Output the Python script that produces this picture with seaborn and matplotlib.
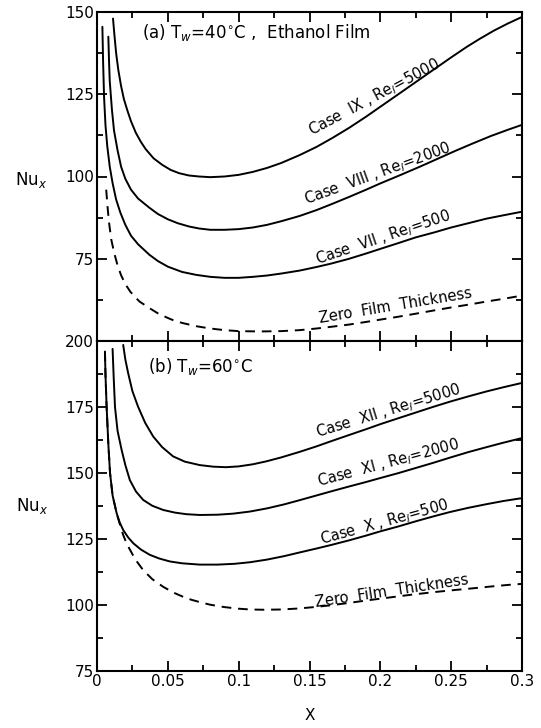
import numpy as np
import pandas as pd
import matplotlib
matplotlib.use("Agg")
import matplotlib.pyplot as plt
import seaborn as sns
from matplotlib.ticker import MultipleLocator, FixedLocator

# ---------------- data ----------------
# Panel (a): Tw = 40 C, ethanol film
a_case9_x = [0.0113, 0.0123, 0.0135, 0.015, 0.017, 0.019, 0.0215, 0.024, 0.0274, 0.031,
             0.0344, 0.04, 0.0462, 0.052, 0.058, 0.065, 0.072, 0.08, 0.09, 0.1,
             0.11, 0.12, 0.13, 0.143, 0.155, 0.1665, 0.178, 0.19, 0.2, 0.2137,
             0.225, 0.237, 0.25, 0.261, 0.27, 0.28, 0.29, 0.3]
a_case9_y = [148, 143, 137.5, 132.5, 127.5, 123.5, 120, 116.8, 113.3, 110.5,
             108.3, 105.5, 103.5, 102, 101, 100.3, 100, 99.8, 100, 100.5,
             101.4, 102.6, 104.1, 106.5, 109, 111.8, 114.8, 118.2, 121.2, 125.3,
             128.7, 132.3, 136.2, 139.4, 141.8, 144.3, 146.5, 148.5]

a_case8_x = [0.008, 0.0085, 0.009, 0.0105, 0.012, 0.0145, 0.017, 0.02, 0.024, 0.029,
             0.037, 0.043, 0.05, 0.057, 0.065, 0.072, 0.08, 0.09, 0.1, 0.11,
             0.12, 0.13, 0.143, 0.155, 0.165, 0.178, 0.19, 0.2, 0.215, 0.228,
             0.24, 0.253, 0.265, 0.278, 0.29, 0.3]
a_case8_y = [142.5, 135, 129, 120.5, 114, 108, 103, 99.3, 96, 93.3,
             90.5, 88.6, 87, 85.8, 84.8, 84.2, 83.8, 83.8, 84, 84.5,
             85.3, 86.4, 88, 89.8, 91.5, 93.8, 96, 97.9, 100.6, 103,
             105.3, 107.8, 110, 112.3, 114.2, 115.7]

a_case7_x = [0.0038, 0.0043, 0.005, 0.006, 0.0073, 0.009, 0.011, 0.0135, 0.0165, 0.02,
             0.024, 0.029, 0.037, 0.043, 0.05, 0.06, 0.07, 0.08, 0.09, 0.1,
             0.11, 0.12, 0.13, 0.143, 0.155, 0.165, 0.178, 0.19, 0.2, 0.213,
             0.225, 0.238, 0.25, 0.263, 0.275, 0.288, 0.3]
a_case7_y = [145.5, 135, 124, 115.5, 109, 103, 98, 93, 89, 85.3,
             82, 79.4, 76.2, 74.3, 72.6, 71, 70.1, 69.5, 69.2, 69.2,
             69.5, 69.9, 70.5, 71.4, 72.5, 73.5, 75, 76.6, 78, 79.8,
             81.5, 83, 84.5, 85.9, 87.2, 88.3, 89.3]

a_zero_x = [0.0065, 0.0075, 0.0085, 0.01, 0.012, 0.0145, 0.017, 0.02, 0.0235, 0.027,
            0.03, 0.037, 0.043, 0.05, 0.055, 0.061, 0.07, 0.08, 0.09, 0.1,
            0.115, 0.13, 0.143, 0.155, 0.165, 0.178, 0.19, 0.2, 0.213, 0.225,
            0.238, 0.25, 0.263, 0.275, 0.288, 0.3]
a_zero_y = [96, 90.5, 86, 81, 77, 73, 70, 67.3, 65, 63.3,
            62, 60, 58.4, 57, 56.1, 55.4, 54.5, 53.8, 53.3, 53,
            52.9, 53, 53.3, 53.8, 54.3, 55, 55.8, 56.5, 57.4, 58.3,
            59.3, 60.2, 61.1, 62, 62.9, 63.8]

# Panel (b): Tw = 60 C
b_case12_x = [0.0185, 0.02, 0.022, 0.025, 0.029, 0.034, 0.0397, 0.046, 0.0537, 0.062,
              0.0725, 0.082, 0.091, 0.1, 0.11, 0.1194, 0.13, 0.143, 0.155, 0.165,
              0.178, 0.19, 0.2, 0.213, 0.225, 0.237, 0.249, 0.262, 0.275, 0.287, 0.299]
b_case12_y = [198.5, 193, 187.8, 181, 175.1, 169, 163.8, 159.8, 156.3, 154.3,
              153, 152.4, 152.2, 152.5, 153.3, 154.4, 155.9, 158, 160.1, 162,
              164.4, 166.6, 168.5, 170.8, 172.9, 175, 177, 179, 180.9, 182.5, 184]

b_case11_x = [0.011, 0.0118, 0.0127, 0.0145, 0.0174, 0.02, 0.0232, 0.0275, 0.0326, 0.039,
              0.0467, 0.055, 0.063, 0.0725, 0.085, 0.096, 0.108, 0.12, 0.132, 0.143,
              0.155, 0.165, 0.178, 0.19, 0.2, 0.213, 0.225, 0.237, 0.249, 0.262,
              0.275, 0.287, 0.299]
b_case11_y = [197, 186, 175, 166, 158.7, 153, 147.3, 143, 139.8, 137.6,
              136, 135, 134.4, 134.1, 134.2, 134.6, 135.4, 136.6, 138.1, 139.7,
              141.5, 143, 144.9, 146.6, 148.1, 150, 151.9, 153.8, 155.8, 157.9,
              159.8, 161.5, 163.1]

b_case10_x = [0.0056, 0.006, 0.0068, 0.008, 0.0092, 0.011, 0.0139, 0.016, 0.0185, 0.022,
              0.0256, 0.031, 0.0373, 0.044, 0.0514, 0.06, 0.0725, 0.085, 0.097, 0.108,
              0.12, 0.132, 0.143, 0.155, 0.165, 0.178, 0.19, 0.2, 0.213, 0.225,
              0.237, 0.249, 0.262, 0.275, 0.287, 0.299]
b_case10_y = [196, 187, 175, 161, 150, 141.5, 134.7, 131.3, 128.4, 125.6,
              123.4, 121, 119, 117.6, 116.5, 115.8, 115.3, 115.3, 115.6, 116.2,
              117.2, 118.5, 119.9, 121.4, 122.7, 124.5, 126.3, 127.9, 129.8, 131.7,
              133.5, 135.2, 136.8, 138.2, 139.4, 140.4]

b_zero_x = [0.0056, 0.006, 0.0068, 0.008, 0.0092, 0.011, 0.0139, 0.016, 0.0185, 0.021,
            0.0232, 0.027, 0.0326, 0.039, 0.0467, 0.054, 0.0608, 0.0665, 0.0725, 0.08,
            0.09, 0.1, 0.108, 0.118, 0.13, 0.143, 0.155, 0.165, 0.178, 0.19,
            0.2, 0.213, 0.225, 0.24, 0.253, 0.265, 0.278, 0.29, 0.3]
b_zero_y = [196, 187, 175, 161, 150, 141.5, 134.7, 130.8, 126.5, 123.2,
            121, 117.3, 113.2, 109.8, 106.9, 104.7, 103.1, 102, 101.1, 100.1,
            99.2, 98.6, 98.3, 98.2, 98.3, 98.7, 99.3, 99.9, 100.8, 101.7,
            102.4, 103.3, 104.1, 105, 105.7, 106.3, 107, 107.6, 108]

x_ticks = [0, 0.05, 0.1, 0.15, 0.2, 0.25, 0.3]
x_tick_labels = ["0", "0.05", "0.1", "0.15", "0.2", "0.25", "0.3"]
a_yticks = [50, 75, 100, 125, 150]
a_ytick_labels = ["", "75", "100", "125", "150"]
b_yticks = [75, 100, 125, 150, 175, 200]
b_ytick_labels = ["75", "100", "125", "150", "175", "200"]

a_labels = [r"Case  IX , Re$_l$=5000", r"Case  VIII , Re$_l$=2000",
            r"Case  VII , Re$_l$=500", "Zero  Film  Thickness"]
b_labels = [r"Case  XII , Re$_l$=5000", r"Case  XI , Re$_l$=2000",
            r"Case  X , Re$_l$=500", "Zero  Film  Thickness"]

# ---------------- style ----------------
sns.set_style("ticks")
plt.rcParams["font.family"] = ["DejaVu Sans"]
plt.rcParams["mathtext.fontset"] = "dejavusans"
plt.rcParams["text.color"] = "black"

fig = plt.figure(figsize=(5.41, 7.28), dpi=100)
L, R = 97 / 541, 522 / 541
top_a, bot_a = 1 - 12 / 728, 1 - 341 / 728
bot_b = 1 - 671 / 728
ax_a = fig.add_axes([L, bot_a, R - L, top_a - bot_a])
ax_b = fig.add_axes([L, bot_b, R - L, bot_a - bot_b])

def curve(ax, xs, ys, dashed=False):
    df = pd.DataFrame({"x": xs, "y": ys})
    sns.lineplot(data=df, x="x", y="y", ax=ax, color="black", lw=1.4,
                 estimator=None, sort=False,
                 linestyle=(0, (5, 3.5)) if dashed else "-")

curve(ax_a, a_case9_x, a_case9_y)
curve(ax_a, a_case8_x, a_case8_y)
curve(ax_a, a_case7_x, a_case7_y)
curve(ax_a, a_zero_x, a_zero_y, dashed=True)

curve(ax_b, b_case12_x, b_case12_y)
curve(ax_b, b_case11_x, b_case11_y)
curve(ax_b, b_case10_x, b_case10_y)
curve(ax_b, b_zero_x, b_zero_y, dashed=True)

fs = 11
for ax, lo, hi, yt, ytl in [(ax_a, 50, 150, a_yticks, a_ytick_labels),
                            (ax_b, 75, 200, b_yticks, b_ytick_labels)]:
    ax.set_xlim(0, 0.3)
    ax.set_ylim(lo, hi)
    ax.yaxis.set_major_locator(FixedLocator(yt))
    ax.set_yticklabels(ytl)
    ax.yaxis.set_minor_locator(MultipleLocator(12.5))
    ax.xaxis.set_major_locator(FixedLocator(x_ticks))
    ax.xaxis.set_minor_locator(MultipleLocator(0.025))
    ax.tick_params(which="both", direction="in", top=True, right=True,
                   width=1.3, labelsize=fs, colors="black", labelcolor="black")
    ax.tick_params(which="major", length=7, pad=2)
    ax.tick_params(which="minor", length=4)
    for s in ax.spines.values():
        s.set_linewidth(1.5)
        s.set_color("black")
    ax.set_ylabel("")
    ax.set_xlabel("")

ax_a.set_xticklabels([])
ax_b.set_xticklabels(x_tick_labels)
ax_b.set_xlabel("X", fontsize=fs, labelpad=14, color="black")

fig.text(15 / 541, 1 - 180 / 728, r"Nu$_x$", fontsize=12, ha="left", va="center", color="black")
fig.text(16 / 541, 1 - 506 / 728, r"Nu$_x$", fontsize=12, ha="left", va="center", color="black")

ax_a.text(0.032, 143.8, r"(a) T$_w$=40$^{\circ}$C ,  Ethanol Film", fontsize=12,
          ha="left", va="center", color="black")
ax_b.text(0.036, 190.5, r"(b) T$_w$=60$^{\circ}$C", fontsize=12, ha="left",
          va="center", color="black")

a_pos = [(0.196, 124.2, 28), (0.198, 101.0, 20), (0.202, 81.3, 18.5), (0.211, 60.6, 9.5)]
for (x, y, r), t in zip(a_pos, a_labels):
    ax_a.text(x, y, t, fontsize=10.5, rotation=r, rotation_mode="anchor",
              ha="center", va="center", color="black")
b_pos = [(0.206, 173.4, 17), (0.206, 153.8, 15), (0.203, 131.5, 15.5), (0.208, 105.3, 8.5)]
for (x, y, r), t in zip(b_pos, b_labels):
    ax_b.text(x, y, t, fontsize=10.5, rotation=r, rotation_mode="anchor",
              ha="center", va="center", color="black")

fig.savefig("out.png", dpi=100)
